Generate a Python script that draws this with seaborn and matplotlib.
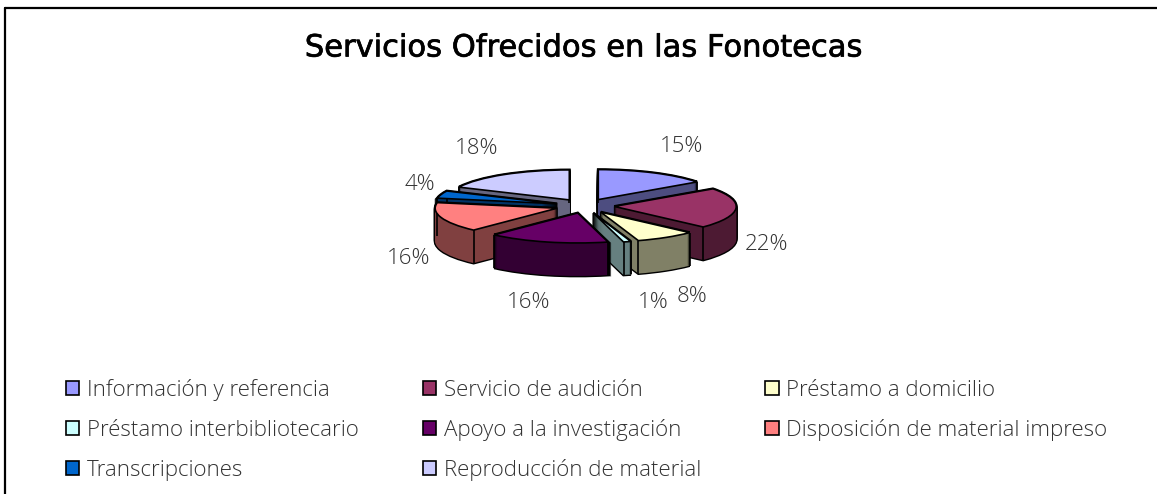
import numpy as np
import matplotlib
matplotlib.use("Agg")
import matplotlib.pyplot as plt
import matplotlib.patheffects as pe
from matplotlib.legend_handler import HandlerPatch
from matplotlib.lines import Line2D
from matplotlib.patches import Patch, Rectangle
import seaborn as sns

categories = ["Información y referencia", "Servicio de audición", "Préstamo a domicilio",
              "Préstamo interbibliotecario", "Apoyo a la investigación",
              "Disposición de material impreso", "Transcripciones", "Reproducción de material"]
percent = [15, 22, 8, 1, 16, 16, 4, 18]
top_colors = ["#9999FF", "#993366", "#FFFFCC", "#CCFFFF", "#660066", "#FF8080", "#0066CC", "#CCCCFF"]
title = "Servicios Ofrecidos en las Fonotecas"

W, H = 1157, 494
sns.set_theme(style="white")
FONT = ["Open Sans", "DejaVu Sans"]
plt.rcParams["font.family"] = FONT

palette = sns.color_palette(top_colors)
walls = [tuple(0.5 * c for c in col) for col in palette]

CX, CY, RX, RY, DEPTH = 585, 206, 122, 30, 33
EXPLODE = 0.24
paint_order = [0, 7, 6, 1, 5, 2, 3, 4]      # back to front
rank = {s: r for r, s in enumerate(paint_order)}

fig = plt.figure(figsize=(W / 100, H / 100), dpi=100, facecolor="white")
ax = fig.add_axes([0, 0, 1, 1])


def layer(dy, faces, edge, lw, z):
    wedges, _ = ax.pie(percent, explode=[EXPLODE] * len(percent), colors=faces, startangle=90,
                       counterclock=False, center=(0, dy), radius=1,
                       wedgeprops=dict(edgecolor=edge, linewidth=lw, joinstyle="miter"))
    for i, w in enumerate(wedges):
        w.set_zorder(rank[i] * 1000 + z)
    return wedges


steps = np.arange(DEPTH, -1, -1.0) / RY
for k, dy in enumerate(steps):
    layer(-dy, ["black"] * len(percent), "black", 2.0, k)
for k, dy in enumerate(steps):
    layer(-dy, walls, "none", 0, 100 + k)
top = layer(0, palette, "black", 1.2, 500)

# vertical arrises of the extruded slices
for i, w in enumerate(top):
    x0, y0 = w.center
    for th in (w.theta1, w.theta2):
        xx = x0 + np.cos(np.radians(th))
        yy = y0 + np.sin(np.radians(th))
        ax.plot([xx, xx], [yy, yy - DEPTH / RY], color="black", lw=1.2,
                zorder=rank[i] * 1000 + 300, solid_capstyle="butt")

ax.set_aspect("auto")
ax.set_xlim((0 - CX) / RX, (W - CX) / RX)
ax.set_ylim((CY - H) / RY, CY / RY)
ax.axis("off")

# page frame: left and top edges only
for xs, ys in (((5, 5), (8, H)), ((5, W), (8, 8))):
    fig.add_artist(Line2D([x / W for x in xs], [1 - y / H for y in ys], color="black", lw=1.6))

fig.text(583 / W, 1 - 48 / H, title, ha="center", va="center", fontsize=22,
         family=["DejaVu Sans"], color="black",
         path_effects=[pe.withStroke(linewidth=0.5, foreground="black")])

label_xy = [(682, 146), (767, 244), (692, 297), (653, 302), (529, 302), (409, 258), (420, 184), (477, 149)]
for p, (x, y) in zip(percent, label_xy):
    fig.text(x / W, 1 - y / H, f"{p}%", ha="center", va="center", fontsize=16,
             fontweight=300, color="#333333")


def small_square(legend, orig_handle, xdescent, ydescent, width, height, fontsize):
    side = 0.6 * fontsize
    return Rectangle((-xdescent, 0.35 * fontsize - side / 2), side, side)


order = [0, 3, 6, 1, 4, 7, 2, 5]
handles = [Patch(facecolor=palette[i], edgecolor="black", linewidth=1.2) for i in order]
labels = [categories[i] for i in order]
fig.legend(handles, labels, ncols=3, loc="lower left", bbox_to_anchor=(66 / W, 1 - 482 / H),
           frameon=False, labelcolor="#333333", handlelength=0.6, handleheight=1.5,
           handletextpad=0.33, columnspacing=2.9, labelspacing=0.58, borderpad=0, borderaxespad=0,
           handler_map={Patch: HandlerPatch(patch_func=small_square)},
           prop=dict(family=FONT, weight=300, size=16))

fig.savefig("out.png", dpi=100, facecolor="white")
